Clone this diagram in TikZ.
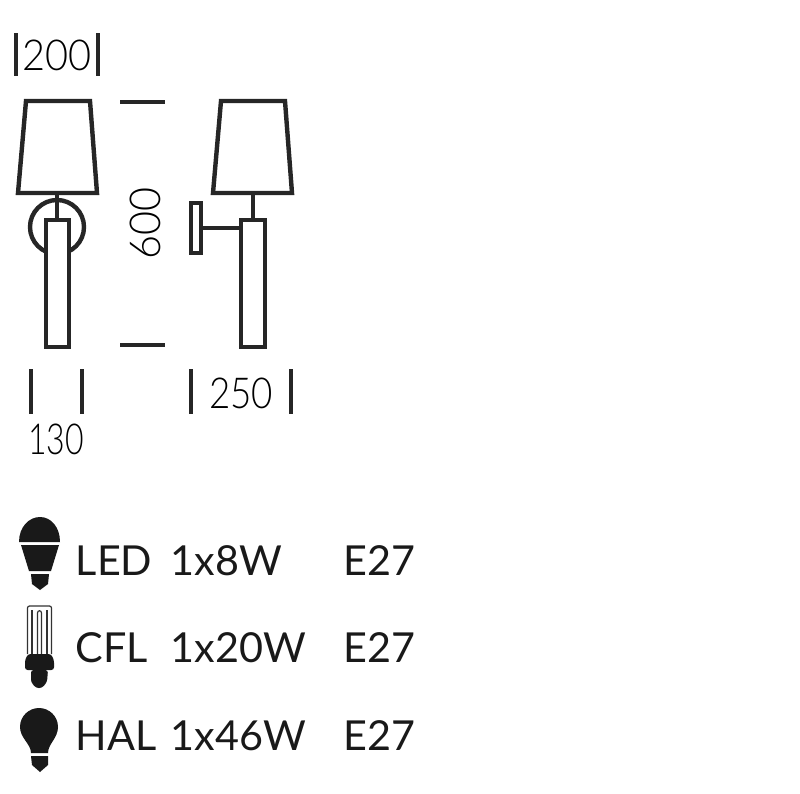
\documentclass[tikz,border=0pt]{standalone}
\usepackage{fontspec}
\setmainfont{Lato}
\newfontfamily\dimfont{Lato Light}

\tikzset{
  lampline/.style={line width=3.3pt,draw=black!85,fill=white,line join=miter},
  dimmark/.style={line width=3.4pt,draw=black!85},
  dimtext/.style={font=\dimfont\fontsize{32}{32}\selectfont,text=black,inner sep=0pt},
  legendtext/.style={font=\fontsize{31}{31}\selectfont,text=black!90,inner sep=0pt,anchor=base west},
  bulbfill/.style={fill=black!90,draw=none},
  tubeline/.style={line width=0.9pt,draw=black!80}
}

\begin{document}
\begin{tikzpicture}[x=0.75pt,y=-0.75pt]
  \useasboundingbox (0,0) rectangle (800,793);

  % front view
  \draw[lampline] (57,227) circle [radius=27];
  \draw[lampline] (26,101) -- (90,101) -- (97,193) -- (18,193) -- cycle;
  \draw[lampline] (57,193) -- (57,220);
  \draw[lampline] (46,220) rectangle (69,347);

  % side view
  \draw[lampline] (221,101) -- (285,101) -- (292,193) -- (213,193) -- cycle;
  \draw[lampline] (253,193) -- (253,220);
  \draw[lampline] (191,203) rectangle (201,253);
  \draw[lampline] (201,228) -- (241,228);
  \draw[lampline] (241,220) rectangle (265,347);

  % dimensions
  \foreach \x/\ya/\yb in {16/33/76,98/33/76,31/369/414,82/369/414,191/369/414,291/369/414}{
    \draw[dimmark] (\x,\ya) -- (\x,\yb);
  }
  \foreach \y in {102,345}{
    \draw[dimmark] (120,\y) -- (165,\y);
  }
  \node[dimtext] (dimtop) at (57,55) {\scalebox{0.93}[1]{200}};
  \node[dimtext,rotate=90] (dimheight) at (145,223) {\scalebox{0.97}[1]{600}};
  \node[dimtext] (dimfront) at (56,439) {\scalebox{0.75}[1]{130}};
  \node[dimtext] (dimside) at (241,393) {\scalebox{0.86}[1]{250}};

  % LED bulb
  \fill[bulbfill] (19,542) .. controls (19,527) and (29,517) .. (40,517)
    .. controls (51,517) and (60,527) .. (60,542) -- cycle;
  \fill[bulbfill] (21,545) -- (59,545) -- (51,571) -- (29,571) -- cycle;
  \fill[bulbfill] (31,574) -- (49,574) -- (48,584) -- (40,590) -- (32,584) -- cycle;

  % CFL bulb
  \draw[tubeline,rounded corners=1.5pt] (27.5,654) -- (27.5,606) -- (51.5,606) -- (51.5,654);
  \foreach \x in {32,47}{
    \draw[tubeline] (\x,610) -- (\x,654);
  }
  \draw[tubeline] (37.5,654) -- (37.5,613) .. controls (37.5,610) and (41.5,610) .. (41.5,613) -- (41.5,654);
  \fill[bulbfill,rounded corners=2pt] (28,654) -- (51,654) -- (54,660) -- (54,670) -- (25,670) -- (25,660) -- cycle;
  \fill[bulbfill,rounded corners=2pt] (31,670) -- (48,670) -- (47,682) -- (42,688) -- (36,688) -- (31,682) -- cycle;

  % HAL bulb
  \fill[bulbfill] (31,753) .. controls (31,744) and (20,738) .. (20,727)
    .. controls (20,716) and (29,708) .. (39,708)
    .. controls (49,708) and (58,716) .. (58,727)
    .. controls (58,738) and (48,744) .. (48,753) -- cycle;
  \fill[bulbfill] (31,756) -- (48,756) -- (48,765) -- (40,772) -- (32,765) -- cycle;

  % legend
  \foreach \name/\y/\kind/\power in {led/575/LED/1x8W,cfl/662/CFL/1x20W,hal/750/HAL/1x46W}{
    \node[legendtext] (\name kind) at (75.5,\y) {\kind};
    \node[legendtext] (\name power) at (170.5,\y) {\power};
    \node[legendtext] (\name socket) at (343,\y) {E27};
  }
\end{tikzpicture}
\end{document}
